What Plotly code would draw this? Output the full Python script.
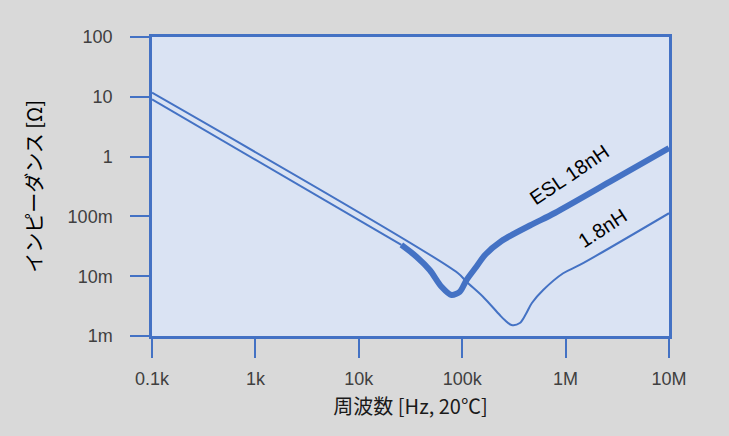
import plotly.graph_objects as go

# Curve with ESL 18nH (thin capacitive part, then thick part)
freq_esl18_thin = [100, 25800]
z_esl18_thin = [9.08, 0.0333]

freq_esl18 = [25800, 36100, 48500, 63100, 78800, 94900, 110000, 137000, 166000,
              240000, 451000, 787000, 2690000, 10000000]
z_esl18 = [0.0333, 0.0212, 0.0127, 0.00667, 0.00485, 0.00551, 0.00863, 0.0144, 0.0226,
           0.0388, 0.0705, 0.114, 0.38, 1.39]

# Curve with ESL 1.8nH
freq_esl1_8 = [100, 90600, 110000, 159000, 231000, 258000, 300000, 361000, 413000,
               472000, 607000, 948000, 1370000, 10000000]
z_esl1_8 = [11.7, 0.0113, 0.00809, 0.00454, 0.00224, 0.00185, 0.00153, 0.00165, 0.00233,
            0.00356, 0.00587, 0.0112, 0.0154, 0.113]

x_tickvals = [1e2, 1e3, 1e4, 1e5, 1e6, 1e7]
x_ticktext = ["0.1k", "1k", "10k", "100k", "1M", "10M"]
y_tickvals = [1e2, 1e1, 1e0, 1e-1, 1e-2, 1e-3]
y_ticktext = ["100", "10", "1", "100m", "10m", "1m"]

BLUE = "#4472C4"

fig = go.Figure()
fig.add_trace(go.Scatter(x=freq_esl18_thin, y=z_esl18_thin, mode="lines",
                         line=dict(color=BLUE, width=2)))
fig.add_trace(go.Scatter(x=freq_esl1_8, y=z_esl1_8, mode="lines",
                         line=dict(color=BLUE, width=2, shape="spline", smoothing=0.9)))
fig.add_trace(go.Scatter(x=freq_esl18, y=z_esl18, mode="lines",
                         line=dict(color=BLUE, width=6, shape="spline", smoothing=0.8)))

fig.add_annotation(x=6.03, y=-0.30, xref="x", yref="y", text="ESL 18nH",
                   showarrow=False, textangle=-34,
                   font=dict(family="Liberation Sans, Arial", size=20, color="#000000"))
fig.add_annotation(x=6.36, y=-1.20, xref="x", yref="y", text="1.8nH",
                   showarrow=False, textangle=-33,
                   font=dict(family="Liberation Sans, Arial", size=20, color="#000000"))

fig.update_layout(
    width=729, height=436,
    margin=dict(l=152, r=60, t=37, b=100),
    paper_bgcolor="#D9D9D9", plot_bgcolor="#DAE3F3",
    showlegend=False,
    font=dict(family="Liberation Sans, Arial", size=18, color="#404040"),
)
fig.update_xaxes(
    type="log", range=[2, 7], tickvals=x_tickvals, ticktext=x_ticktext,
    ticks="outside", ticklen=19, tickcolor=BLUE, tickwidth=1.5,
    ticklabelstandoff=6,
    showline=True, linecolor=BLUE, linewidth=2.5, mirror=True,
    showgrid=False, zeroline=False,
    title=dict(text="周波数 [Hz, 20℃]", standoff=12,
               font=dict(family="Noto Sans CJK JP", size=20, color="#1a1a1a")),
)
fig.update_yaxes(
    type="log", range=[-3, 2], tickvals=y_tickvals, ticktext=y_ticktext,
    ticks="outside", ticklen=19, tickcolor=BLUE, tickwidth=1.5,
    ticklabelstandoff=14,
    showline=True, linecolor=BLUE, linewidth=2.5, mirror=True,
    showgrid=False, zeroline=False,
    title=dict(text="インピーダンス [Ω]", standoff=20,
               font=dict(family="Noto Sans CJK JP", size=20, color="#000000")),
)

fig.write_html("out.html", config={"displayModeBar": False},
               post_script="document.body.style.margin='0';")
